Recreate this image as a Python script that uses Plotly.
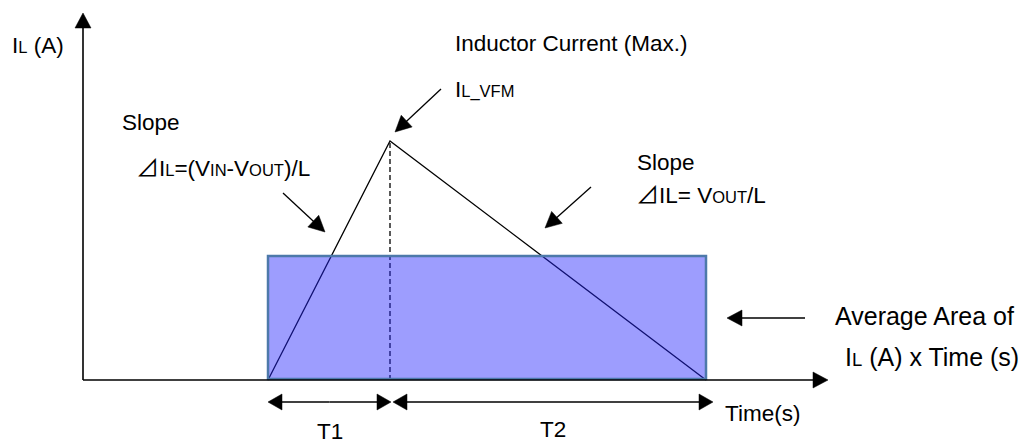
import math
import plotly.graph_objects as go

# ---- diagram values (time / current units, origin at axis corner) ----
time_points = [185, 307, 623]        # start of T1, peak (end of T1), end of T2
current_points = [0, 239, 0]         # inductor current at those times
avg_current = 124                    # height of the average-area rectangle
axis_len_x = 745
axis_len_y = 367
period_labels = ["T1", "T2"]

# canvas placement of the axis origin
OX, OY = 83, 380
W, H = 1032, 444
FONT = "Liberation Sans, Arial, sans-serif"
FS = 22.5
SUB = 16.5


def px(t):
    return OX + t


def py(i):
    return OY - i


def sub(s, size=SUB):
    return f"<span style='font-size:{size}px'>{s}</span>"


DELTA = "<span style='font-family:Noto Sans CJK JP;font-size:23px'>⊿</span>"

fig = go.Figure()

# inductor current triangle
fig.add_trace(go.Scatter(
    x=[px(t) for t in time_points], y=[py(i) for i in current_points],
    mode="lines", line=dict(color="black", width=1.3), hoverinfo="skip"))
# dashed line from the peak
fig.add_trace(go.Scatter(
    x=[px(time_points[1])] * 2, y=[py(0), py(current_points[1])],
    mode="lines", line=dict(color="black", width=1.3, dash="5px,3px"), hoverinfo="skip"))

shapes = []

# average area rectangle (translucent, above the lines)
shapes.append(dict(type="rect", xref="x", yref="y",
                   x0=px(time_points[0]), x1=px(time_points[2]),
                   y0=py(0) - 1, y1=py(avg_current),
                   fillcolor="rgba(38,38,253,0.45)",
                   line=dict(color="#4d79aa", width=2.5), layer="above"))


def head(x0, y0, x1, y1, L=14, hw=7.5):
    ang = math.atan2(y1 - y0, x1 - x0)
    bx, by = x1 - L * math.cos(ang), y1 - L * math.sin(ang)
    nx, ny = -math.sin(ang), math.cos(ang)
    p = (f"M {x1},{y1} L {bx + nx * hw},{by + ny * hw} "
         f"L {bx - nx * hw},{by - ny * hw} Z")
    return dict(type="path", xref="x", yref="y", path=p,
                fillcolor="black", line=dict(color="black", width=0.5), layer="above")


def line(x0, y0, x1, y1, w=1.3, color="black"):
    return dict(type="line", xref="x", yref="y", x0=x0, y0=y0, x1=x1, y1=y1,
                line=dict(color=color, width=w), layer="above")


def arrow(x0, y0, x1, y1, L=14, hw=7.5, w=1.3):
    ang = math.atan2(y1 - y0, x1 - x0)
    ex, ey = x1 - (L - 2) * math.cos(ang), y1 - (L - 2) * math.sin(ang)
    return [line(x0, y0, ex, ey, w), head(x0, y0, x1, y1, L, hw)]


# axes
shapes += arrow(OX, OY, OX, OY - axis_len_y, L=15, hw=8, w=1.6)
shapes += arrow(OX, OY, OX + axis_len_x, OY, L=15, hw=8, w=1.6)

# pointer arrows
shapes += arrow(441, 89, 395, 132, L=16, hw=8)
shapes += arrow(283, 193, 325, 232, L=16, hw=8)
shapes += arrow(591, 187, 545, 228, L=16, hw=8)
shapes += arrow(805, 318, 727, 318, L=15, hw=8)

# T1 / T2 dimension arrows
dim_y = 402
t1a, t1b = px(time_points[0]), px(time_points[1]) + 1
t2a, t2b = px(time_points[1]) + 3, px(time_points[2]) + 7
for a, b in [(t1a, t1b), (t2a, t2b)]:
    m = (a + b) / 2
    shapes += arrow(m, dim_y, a, dim_y, L=14, hw=8)
    shapes += arrow(m, dim_y, b, dim_y, L=14, hw=8)

annotations = []


def text(x, y, s, anchor="left", size=FS):
    annotations.append(dict(x=x, y=y, xref="x", yref="y", text=s, showarrow=False,
                            xanchor=anchor, yanchor="middle",
                            font=dict(family=FONT, size=size, color="black")))


text(10, 45, "I" + sub("L") + " (A)")
text(453, 43, "Inductor Current (Max.)")
text(453, 89, "I" + sub("L_VFM"))
text(120, 122, "Slope")
text(134, 166, DELTA + "I" + sub("L") + "=(V" + sub("IN") + "-V" + sub("OUT") + ")/L")
text(635, 162, "Slope")
text(634, 193, DELTA + "IL= V" + sub("OUT") + "/L")
text(833, 316, "Average Area of", size=25)
text(843, 357, "I" + sub("L", 18.5) + " (A) x Time (s)", size=25)
text(723, 413, "Time(s)")
text((t1a + t1b) / 2, 431, period_labels[0], anchor="center")
text((t2a + t2b) / 2, 429, period_labels[1], anchor="center")

fig.update_layout(
    width=W, height=H, margin=dict(l=0, r=0, t=0, b=0),
    paper_bgcolor="white", plot_bgcolor="white", showlegend=False,
    xaxis=dict(range=[0, W], visible=False, fixedrange=True),
    yaxis=dict(range=[H, 0], visible=False, fixedrange=True),
    shapes=shapes, annotations=annotations,
)

fig.write_html("out.html", config={"displayModeBar": False},
               post_script="document.body.style.margin='0';document.body.style.overflow='hidden';")
